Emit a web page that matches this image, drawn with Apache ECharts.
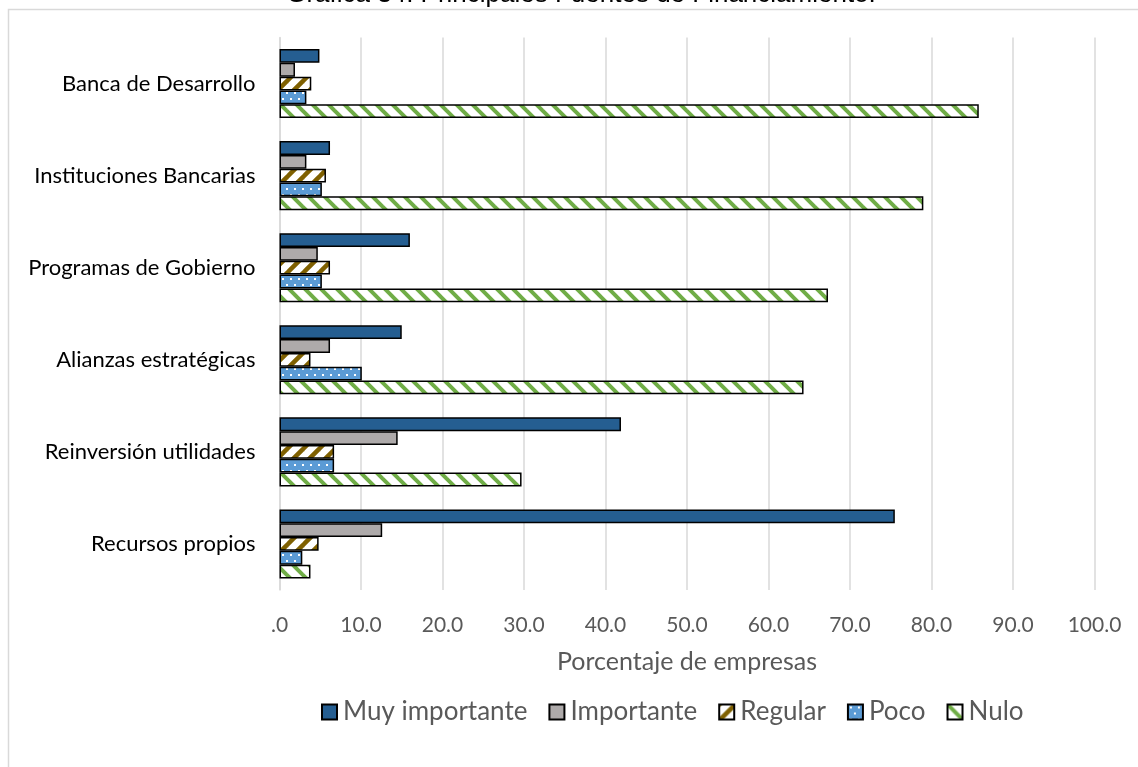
<!DOCTYPE html>
<html>
<head>
<meta charset="utf-8">
<script src="https://cdn.jsdelivr.net/npm/echarts@6/dist/echarts.min.js"></script>
<style>
html,body{margin:0;padding:0;background:#fff;}
#chart{width:1138px;height:767px;}
</style>
</head>
<body>
<div id="chart"></div>
<script>
const categories = ['Recursos propios','Reinversión utilidades','Alianzas estratégicas','Programas de Gobierno','Instituciones Bancarias','Banca de Desarrollo'];
const seriesNames = ['Muy importante','Importante','Regular','Poco','Nulo'];
const muyImportante = [75.5, 41.9, 15.0, 16.0, 6.2, 4.9];
const importante = [12.6, 14.5, 6.2, 4.7, 3.3, 1.9];
const regular = [4.8, 6.7, 3.8, 6.2, 5.7, 3.9];
const poco = [2.8, 6.7, 10.1, 5.2, 5.2, 3.3];
const nulo = [3.8, 29.7, 64.3, 67.3, 79.0, 85.8];
const xTickLabels = ['.0','10.0','20.0','30.0','40.0','50.0','60.0','70.0','80.0','90.0','100.0'];
const titleText = 'Gráfica 34. Principales Fuentes de Financiamiento.';
const axisName = 'Porcentaje de empresas';

function stripeTile(color, dir, period, lw) {
  const c = document.createElement('canvas');
  c.width = period; c.height = period;
  const ctx = c.getContext('2d');
  ctx.fillStyle = '#ffffff';
  ctx.fillRect(0, 0, period, period);
  ctx.strokeStyle = color;
  ctx.lineWidth = lw;
  ctx.lineCap = 'square';
  for (const o of [-period, 0, period]) {
    ctx.beginPath();
    if (dir === 'down') { ctx.moveTo(o, 0); ctx.lineTo(o + period, period); }
    else { ctx.moveTo(o, period); ctx.lineTo(o + period, 0); }
    ctx.stroke();
  }
  return c;
}
function dotTile(bg) {
  const c = document.createElement('canvas');
  c.width = 8; c.height = 12;
  const ctx = c.getContext('2d');
  ctx.fillStyle = bg;
  ctx.fillRect(0, 0, 8, 12);
  ctx.fillStyle = '#ffffff';
  ctx.fillRect(2, 2, 2, 2);
  ctx.fillRect(6, 8, 2, 2);
  return c;
}

const fills = [
  '#255E91',
  '#AEAAAA',
  { image: stripeTile('#7F6000', 'up', 16, 4.5), repeat: 'repeat' },
  { image: dotTile('#5B9BD5'), repeat: 'repeat' },
  { image: stripeTile('#70AD47', 'down', 16, 4), repeat: 'repeat' }
];
const dataSets = [muyImportante, importante, regular, poco, nulo];

const chart = echarts.init(document.getElementById('chart'));
const FONT = 'Lato';
chart.setOption({
  animation: false,
  backgroundColor: '#ffffff',
  graphic: [{
    type: 'rect',
    shape: { x: 8.5, y: 9.5, width: 1300, height: 900 },
    style: { fill: 'none', stroke: '#d9d9d9', lineWidth: 1.5 },
    silent: true,
    z: -10
  }, {
    type: 'text',
    x: 581,
    y: -5,
    style: {
      text: titleText,
      fontFamily: 'Liberation Sans',
      fontSize: 26,
      fill: '#000000',
      textAlign: 'center',
      textVerticalAlign: 'middle'
    },
    silent: true
  }],
  legend: {
    data: seriesNames,
    icon: 'rect',
    left: 316,
    top: 694,
    itemWidth: 15,
    itemHeight: 15,
    itemGap: 21,
    textStyle: { fontFamily: FONT, fontSize: 26, color: '#595959', padding: [0, 0, 0, 1] }
  },
  grid: { left: 279.5, right: 43.5, top: 37.5, bottom: 177, containLabel: false },
  xAxis: {
    type: 'value',
    min: 0, max: 100, interval: 10,
    axisLine: { show: false },
    axisTick: { show: false },
    splitLine: { show: true, lineStyle: { color: '#d9d9d9', width: 1.5 } },
    axisLabel: {
      margin: 25,
      fontFamily: FONT, fontSize: 21, color: '#595959',
      formatter: function (v) { return xTickLabels[Math.round(v / 10)]; }
    },
    name: axisName,
    nameLocation: 'middle',
    nameGap: 59,
    nameTextStyle: { fontFamily: FONT, fontSize: 25, color: '#595959' }
  },
  yAxis: {
    type: 'category',
    data: categories,
    axisLine: { show: true, lineStyle: { color: '#d9d9d9', width: 1.5 } },
    axisTick: { show: false },
    axisLabel: { margin: 24, fontFamily: FONT, fontSize: 22, color: '#000000' }
  },
  series: seriesNames.map(function (name, i) {
    return {
      name: name,
      type: 'bar',
      data: dataSets[i],
      barGap: '0%',
      barCategoryGap: '25%',
      itemStyle: { color: fills[i], borderColor: '#000000', borderWidth: 1.5 }
    };
  })
});
</script>
</body>
</html>
